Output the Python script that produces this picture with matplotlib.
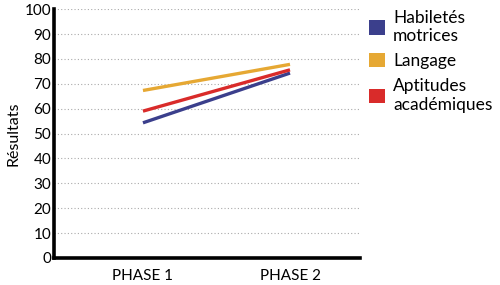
import matplotlib
matplotlib.use("Agg")
import matplotlib.pyplot as plt
from matplotlib.patches import Patch

phases = ["PHASE 1", "PHASE 2"]
series_names = ["Habiletés\nmotrices", "Langage", "Aptitudes\nacadémiques"]
motrices = [54.3, 74.3]
langage = [67.3, 77.8]
academiques = [59.0, 75.6]
colors = ["#3b3f8c", "#e6a833", "#d92b2a"]
yticks = list(range(0, 101, 10))

plt.rcParams['font.family'] = ['Lato', 'DejaVu Sans']

fig = plt.figure(figsize=(5, 2.85), dpi=100)
ax = fig.add_axes([0.108, 0.095, 0.612, 0.873])

x = list(range(len(phases)))
for vals, c in zip([motrices, langage, academiques], colors):
    ax.plot(x, vals, color=c, lw=2.4, solid_capstyle='butt', zorder=3)

ax.set_xlim(-0.605, 1.476)
ax.set_ylim(0, 100)
ax.set_yticks(yticks)
ax.set_xticks(x)
ax.set_xticklabels(phases, fontsize=10.5)
ax.tick_params(axis='both', length=0, labelsize=11)
ax.tick_params(axis='x', pad=8)
ax.tick_params(axis='y', pad=2)
ax.yaxis.grid(True, linestyle=(0, (1, 2)), color='#aaaaaa', lw=0.8)
ax.set_axisbelow(True)
for s in ['top', 'right']:
    ax.spines[s].set_visible(False)
for s in ['left', 'bottom']:
    ax.spines[s].set_linewidth(2.6)
    ax.spines[s].set_color('black')
ax.set_ylabel("Résultats", fontsize=11.5, labelpad=3)

handles = [Patch(facecolor=c, edgecolor='none') for c in colors]
fig.legend(handles, series_names, loc='upper left', bbox_to_anchor=(0.725, 0.99),
           frameon=False, fontsize=12.5, handlelength=0.9, handleheight=0.9,
           handletextpad=0.45, labelspacing=0.5, borderaxespad=0)

fig.savefig("out.png", dpi=100)
